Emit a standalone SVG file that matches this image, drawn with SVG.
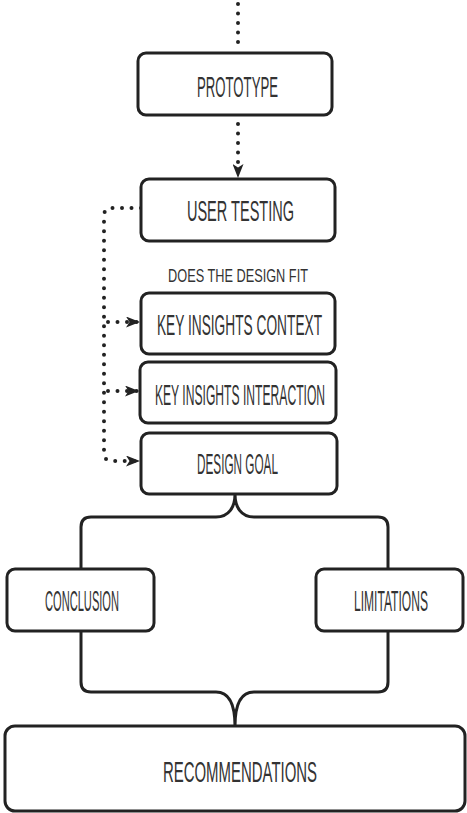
<svg xmlns="http://www.w3.org/2000/svg" width="467" height="813" viewBox="0 0 467 813">
  <style>
    .box { fill: #ffffff; stroke: #222222; stroke-width: 3; }
    .lbl { font-family: "Liberation Sans", Arial, sans-serif; font-size: 30px; fill: #333333; text-anchor: middle; }
    .small { font-size: 19px; }
    .dots { fill: none; stroke: #222222; stroke-width: 4; stroke-linecap: round; stroke-dasharray: 0 9.5; }
    .brace { fill: none; stroke: #222222; stroke-width: 3; stroke-linejoin: round; }
  </style>
  <defs>
    <marker id="arrow" viewBox="0 0 14 11" markerWidth="14" markerHeight="11" refX="14" refY="5.5" orient="auto" markerUnits="userSpaceOnUse">
      <path d="M0,0 L14,5.5 L0,11 L3.5,5.5 z" fill="#222222"/>
    </marker>
  </defs>

  <!-- connectors -->
  <g id="connectors">
    <path class="dots" d="M238 4 V 44"/>
    <path class="dots" d="M238 124 V 178" marker-end="url(#arrow)"/>
    <path class="dots" d="M141 208 H 112 Q 104 208 104 216 V 453 Q 104 461 112 461 H 140" marker-end="url(#arrow)"/>
    <path class="dots" d="M108 322 H 140" marker-end="url(#arrow)"/>
    <path class="dots" d="M108 391 H 139" marker-end="url(#arrow)"/>
    <path class="brace" d="M81 569 V 527 Q 81 517 91 517 H 216 C 229 517 235 507 235 494 C 235 507 241 517 254 517 H 378 Q 388 517 388 527 V 569"/>
    <path class="brace" d="M81 631 V 682 Q 81 692 91 692 H 216 C 229 692 235 705 235 726 C 235 705 241 692 254 692 H 378 Q 388 692 388 682 V 631"/>
  </g>

  <!-- labels are set in a condensed form: horizontal scale 0.46 -->
  <g id="prototype">
    <rect class="box" x="138" y="53" width="194" height="62" rx="8"/>
    <text class="lbl" transform="translate(237.5 97) scale(0.46 1)" x="0" y="0" textLength="176" lengthAdjust="spacingAndGlyphs">PROTOTYPE</text>
  </g>

  <g id="user-testing">
    <rect class="box" x="141" y="179" width="194" height="62" rx="8"/>
    <text class="lbl" transform="translate(240.5 221) scale(0.46 1)" x="0" y="0" textLength="233" lengthAdjust="spacingAndGlyphs">USER TESTING</text>
  </g>

  <g id="fit-question">
    <text class="lbl small" transform="translate(238 282) scale(0.66 1)" x="0" y="0" textLength="212" lengthAdjust="spacingAndGlyphs">DOES THE DESIGN FIT</text>
  </g>

  <g id="key-insights-context">
    <rect class="box" x="141" y="293" width="194" height="61" rx="8"/>
    <text class="lbl" transform="translate(239.5 335) scale(0.46 1)" x="0" y="0" textLength="359" lengthAdjust="spacingAndGlyphs">KEY INSIGHTS CONTEXT</text>
  </g>

  <g id="key-insights-interaction">
    <rect class="box" x="140" y="362" width="196" height="61" rx="8"/>
    <text class="lbl" transform="translate(240 405) scale(0.46 1)" x="0" y="0" textLength="370" lengthAdjust="spacingAndGlyphs">KEY INSIGHTS INTERACTION</text>
  </g>

  <g id="design-goal">
    <rect class="box" x="141" y="433" width="196" height="61" rx="8"/>
    <text class="lbl" transform="translate(237.5 474) scale(0.46 1)" x="0" y="0" textLength="176" lengthAdjust="spacingAndGlyphs">DESIGN GOAL</text>
  </g>

  <g id="conclusion">
    <rect class="box" x="7" y="569" width="147" height="62" rx="8"/>
    <text class="lbl" transform="translate(82 611) scale(0.46 1)" x="0" y="0" textLength="161" lengthAdjust="spacingAndGlyphs">CONCLUSION</text>
  </g>

  <g id="limitations">
    <rect class="box" x="316" y="569" width="147" height="62" rx="8"/>
    <text class="lbl" transform="translate(391 611) scale(0.46 1)" x="0" y="0" textLength="161" lengthAdjust="spacingAndGlyphs">LIMITATIONS</text>
  </g>

  <g id="recommendations">
    <rect class="box" x="5" y="726" width="460" height="85" rx="10"/>
    <text class="lbl" transform="translate(240 782) scale(0.46 1)" x="0" y="0" textLength="335" lengthAdjust="spacingAndGlyphs">RECOMMENDATIONS</text>
  </g>
</svg>
